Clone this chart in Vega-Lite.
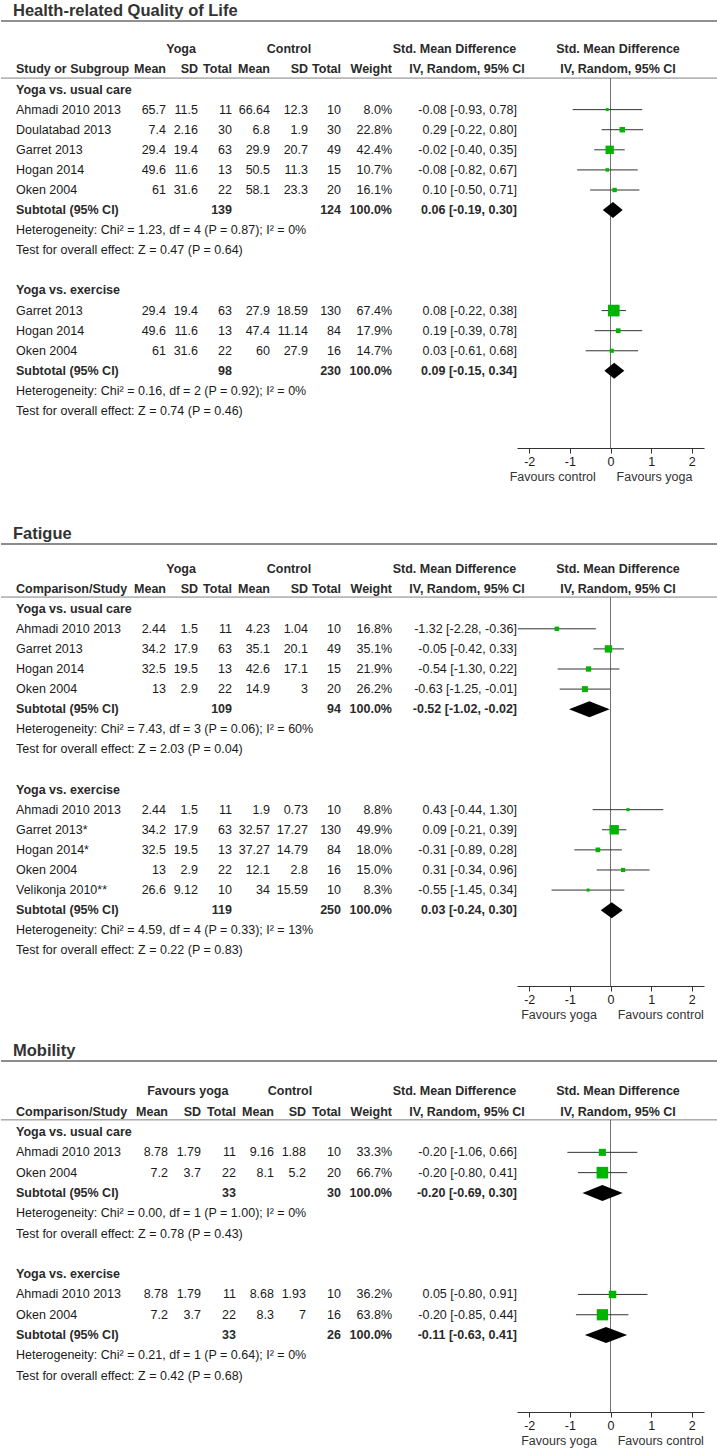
{
"$schema": "https://vega.github.io/schema/vega-lite/v6.json",
"background": "white",
"padding": {"left": 0, "top": 3, "right": 0, "bottom": 0},
"spacing": 0,
"datasets": {
"cols": [
{"col": "ym", "c": 1, "head": "Mean"},
{"col": "ysd", "c": 2, "head": "SD"},
{"col": "yn", "c": 3, "head": "Total"},
{"col": "cm", "c": 4, "head": "Mean"},
{"col": "csd", "c": 5, "head": "SD"},
{"col": "cn", "c": 6, "head": "Total"},
{"col": "w", "c": 7, "head": "Weight"},
{"col": "ci", "c": 8}
],
"heads": [
{"o": "QoL", "k": "span", "row": 0, "c": 1.47, "t": "Yoga"},
{"o": "QoL", "k": "span", "row": 0, "c": 4.5, "t": "Control"},
{"o": "QoL", "k": "span", "row": 0, "c": 7.5, "t": "Std. Mean Difference"},
{"o": "QoL", "k": "span", "row": 0, "c": 9, "t": "Std. Mean Difference"},
{"o": "QoL", "k": "span", "row": 1, "c": 7.6, "t": "IV, Random, 95% CI"},
{"o": "QoL", "k": "span", "row": 1, "c": 9, "t": "IV, Random, 95% CI"},
{"o": "QoL", "k": "stub", "row": 1, "c": 0, "t": "Study or Subgroup"},
{"o": "Fat", "k": "span", "row": 0, "c": 1.47, "t": "Yoga"},
{"o": "Fat", "k": "span", "row": 0, "c": 4.5, "t": "Control"},
{"o": "Fat", "k": "span", "row": 0, "c": 7.5, "t": "Std. Mean Difference"},
{"o": "Fat", "k": "span", "row": 0, "c": 9, "t": "Std. Mean Difference"},
{"o": "Fat", "k": "span", "row": 1, "c": 7.6, "t": "IV, Random, 95% CI"},
{"o": "Fat", "k": "span", "row": 1, "c": 9, "t": "IV, Random, 95% CI"},
{"o": "Fat", "k": "stub", "row": 1, "c": 0, "t": "Comparison/Study"},
{"o": "Mob", "k": "span", "row": 0, "c": 1.6, "t": "Favours yoga"},
{"o": "Mob", "k": "span", "row": 0, "c": 4.5, "t": "Control"},
{"o": "Mob", "k": "span", "row": 0, "c": 7.5, "t": "Std. Mean Difference"},
{"o": "Mob", "k": "span", "row": 0, "c": 9, "t": "Std. Mean Difference"},
{"o": "Mob", "k": "span", "row": 1, "c": 7.6, "t": "IV, Random, 95% CI"},
{"o": "Mob", "k": "span", "row": 1, "c": 9, "t": "IV, Random, 95% CI"},
{"o": "Mob", "k": "stub", "row": 1, "c": 0, "t": "Comparison/Study"}
],
"labels": [
{"o": "QoL", "k": "subgroup", "row": 2, "t": "Yoga vs. usual care"},
{"o": "QoL", "k": "note", "row": 9, "t": "Heterogeneity: Chi² = 1.23, df = 4 (P = 0.87); I² = 0%"},
{"o": "QoL", "k": "note", "row": 10, "t": "Test for overall effect: Z = 0.47 (P = 0.64)"},
{"o": "QoL", "k": "subgroup", "row": 12, "t": "Yoga vs. exercise"},
{"o": "QoL", "k": "note", "row": 17, "t": "Heterogeneity: Chi² = 0.16, df = 2 (P = 0.92); I² = 0%"},
{"o": "QoL", "k": "note", "row": 18, "t": "Test for overall effect: Z = 0.74 (P = 0.46)"},
{"o": "Fat", "k": "subgroup", "row": 2, "t": "Yoga vs. usual care"},
{"o": "Fat", "k": "note", "row": 8, "t": "Heterogeneity: Chi² = 7.43, df = 3 (P = 0.06); I² = 60%"},
{"o": "Fat", "k": "note", "row": 9, "t": "Test for overall effect: Z = 2.03 (P = 0.04)"},
{"o": "Fat", "k": "subgroup", "row": 11, "t": "Yoga vs. exercise"},
{"o": "Fat", "k": "note", "row": 18, "t": "Heterogeneity: Chi² = 4.59, df = 4 (P = 0.33); I² = 13%"},
{"o": "Fat", "k": "note", "row": 19, "t": "Test for overall effect: Z = 0.22 (P = 0.83)"},
{"o": "Mob", "k": "subgroup", "row": 2, "t": "Yoga vs. usual care"},
{"o": "Mob", "k": "note", "row": 6, "t": "Heterogeneity: Chi² = 0.00, df = 1 (P = 1.00); I² = 0%"},
{"o": "Mob", "k": "note", "row": 7, "t": "Test for overall effect: Z = 0.78 (P = 0.43)"},
{"o": "Mob", "k": "subgroup", "row": 9, "t": "Yoga vs. exercise"},
{"o": "Mob", "k": "note", "row": 13, "t": "Heterogeneity: Chi² = 0.21, df = 1 (P = 0.64); I² = 0%"},
{"o": "Mob", "k": "note", "row": 14, "t": "Test for overall effect: Z = 0.42 (P = 0.68)"}
],
"studies": [
{"o": "QoL", "g": "QoL-u", "row": 3, "study": "Ahmadi 2010 2013", "ym": 65.7, "ysd": 11.5, "yn": 11, "cm": 66.64, "csd": 12.3, "cn": 10, "w": 0.08, "smd": -0.08, "lo": -0.93, "hi": 0.78, "ci": "-0.08 [-0.93, 0.78]"},
{"o": "QoL", "g": "QoL-u", "row": 4, "study": "Doulatabad 2013", "ym": 7.4, "ysd": 2.16, "yn": 30, "cm": 6.8, "csd": 1.9, "cn": 30, "w": 0.228, "smd": 0.29, "lo": -0.22, "hi": 0.8, "ci": "0.29 [-0.22, 0.80]"},
{"o": "QoL", "g": "QoL-u", "row": 5, "study": "Garret 2013", "ym": 29.4, "ysd": 19.4, "yn": 63, "cm": 29.9, "csd": 20.7, "cn": 49, "w": 0.424, "smd": -0.02, "lo": -0.4, "hi": 0.35, "ci": "-0.02 [-0.40, 0.35]"},
{"o": "QoL", "g": "QoL-u", "row": 6, "study": "Hogan 2014", "ym": 49.6, "ysd": 11.6, "yn": 13, "cm": 50.5, "csd": 11.3, "cn": 15, "w": 0.107, "smd": -0.08, "lo": -0.82, "hi": 0.67, "ci": "-0.08 [-0.82, 0.67]"},
{"o": "QoL", "g": "QoL-u", "row": 7, "study": "Oken 2004", "ym": 61, "ysd": 31.6, "yn": 22, "cm": 58.1, "csd": 23.3, "cn": 20, "w": 0.161, "smd": 0.1, "lo": -0.5, "hi": 0.71, "ci": "0.10 [-0.50, 0.71]"},
{"o": "QoL", "g": "QoL-e", "row": 13, "study": "Garret 2013", "ym": 29.4, "ysd": 19.4, "yn": 63, "cm": 27.9, "csd": 18.59, "cn": 130, "w": 0.674, "smd": 0.08, "lo": -0.22, "hi": 0.38, "ci": "0.08 [-0.22, 0.38]"},
{"o": "QoL", "g": "QoL-e", "row": 14, "study": "Hogan 2014", "ym": 49.6, "ysd": 11.6, "yn": 13, "cm": 47.4, "csd": 11.14, "cn": 84, "w": 0.179, "smd": 0.19, "lo": -0.39, "hi": 0.78, "ci": "0.19 [-0.39, 0.78]"},
{"o": "QoL", "g": "QoL-e", "row": 15, "study": "Oken 2004", "ym": 61, "ysd": 31.6, "yn": 22, "cm": 60, "csd": 27.9, "cn": 16, "w": 0.147, "smd": 0.03, "lo": -0.61, "hi": 0.68, "ci": "0.03 [-0.61, 0.68]"},
{"o": "Fat", "g": "Fat-u", "row": 3, "study": "Ahmadi 2010 2013", "ym": 2.44, "ysd": 1.5, "yn": 11, "cm": 4.23, "csd": 1.04, "cn": 10, "w": 0.168, "smd": -1.32, "lo": -2.28, "hi": -0.36, "ci": "-1.32 [-2.28, -0.36]"},
{"o": "Fat", "g": "Fat-u", "row": 4, "study": "Garret 2013", "ym": 34.2, "ysd": 17.9, "yn": 63, "cm": 35.1, "csd": 20.1, "cn": 49, "w": 0.351, "smd": -0.05, "lo": -0.42, "hi": 0.33, "ci": "-0.05 [-0.42, 0.33]"},
{"o": "Fat", "g": "Fat-u", "row": 5, "study": "Hogan 2014", "ym": 32.5, "ysd": 19.5, "yn": 13, "cm": 42.6, "csd": 17.1, "cn": 15, "w": 0.219, "smd": -0.54, "lo": -1.3, "hi": 0.22, "ci": "-0.54 [-1.30, 0.22]"},
{"o": "Fat", "g": "Fat-u", "row": 6, "study": "Oken 2004", "ym": 13, "ysd": 2.9, "yn": 22, "cm": 14.9, "csd": 3, "cn": 20, "w": 0.262, "smd": -0.63, "lo": -1.25, "hi": -0.01, "ci": "-0.63 [-1.25, -0.01]"},
{"o": "Fat", "g": "Fat-e", "row": 12, "study": "Ahmadi 2010 2013", "ym": 2.44, "ysd": 1.5, "yn": 11, "cm": 1.9, "csd": 0.73, "cn": 10, "w": 0.088, "smd": 0.43, "lo": -0.44, "hi": 1.3, "ci": "0.43 [-0.44, 1.30]"},
{"o": "Fat", "g": "Fat-e", "row": 13, "study": "Garret 2013*", "ym": 34.2, "ysd": 17.9, "yn": 63, "cm": 32.57, "csd": 17.27, "cn": 130, "w": 0.499, "smd": 0.09, "lo": -0.21, "hi": 0.39, "ci": "0.09 [-0.21, 0.39]"},
{"o": "Fat", "g": "Fat-e", "row": 14, "study": "Hogan 2014*", "ym": 32.5, "ysd": 19.5, "yn": 13, "cm": 37.27, "csd": 14.79, "cn": 84, "w": 0.18, "smd": -0.31, "lo": -0.89, "hi": 0.28, "ci": "-0.31 [-0.89, 0.28]"},
{"o": "Fat", "g": "Fat-e", "row": 15, "study": "Oken 2004", "ym": 13, "ysd": 2.9, "yn": 22, "cm": 12.1, "csd": 2.8, "cn": 16, "w": 0.15, "smd": 0.31, "lo": -0.34, "hi": 0.96, "ci": "0.31 [-0.34, 0.96]"},
{"o": "Fat", "g": "Fat-e", "row": 16, "study": "Velikonja 2010**", "ym": 26.6, "ysd": 9.12, "yn": 10, "cm": 34, "csd": 15.59, "cn": 10, "w": 0.083, "smd": -0.55, "lo": -1.45, "hi": 0.34, "ci": "-0.55 [-1.45, 0.34]"},
{"o": "Mob", "g": "Mob-u", "row": 3, "study": "Ahmadi 2010 2013", "ym": 8.78, "ysd": 1.79, "yn": 11, "cm": 9.16, "csd": 1.88, "cn": 10, "w": 0.333, "smd": -0.2, "lo": -1.06, "hi": 0.66, "ci": "-0.20 [-1.06, 0.66]"},
{"o": "Mob", "g": "Mob-u", "row": 4, "study": "Oken 2004", "ym": 7.2, "ysd": 3.7, "yn": 22, "cm": 8.1, "csd": 5.2, "cn": 20, "w": 0.667, "smd": -0.2, "lo": -0.8, "hi": 0.41, "ci": "-0.20 [-0.80, 0.41]"},
{"o": "Mob", "g": "Mob-e", "row": 10, "study": "Ahmadi 2010 2013", "ym": 8.78, "ysd": 1.79, "yn": 11, "cm": 8.68, "csd": 1.93, "cn": 10, "w": 0.362, "smd": 0.05, "lo": -0.8, "hi": 0.91, "ci": "0.05 [-0.80, 0.91]"},
{"o": "Mob", "g": "Mob-e", "row": 11, "study": "Oken 2004", "ym": 7.2, "ysd": 3.7, "yn": 22, "cm": 8.3, "csd": 7, "cn": 16, "w": 0.638, "smd": -0.2, "lo": -0.85, "hi": 0.44, "ci": "-0.20 [-0.85, 0.44]"}
],
"subtotals": [
{"o": "QoL", "g": "QoL-u", "row": 8, "yn": 139, "cn": 124, "w": 1, "smd": 0.06, "lo": -0.19, "hi": 0.3, "ci": "0.06 [-0.19, 0.30]"},
{"o": "QoL", "g": "QoL-e", "row": 16, "yn": 98, "cn": 230, "w": 1, "smd": 0.09, "lo": -0.15, "hi": 0.34, "ci": "0.09 [-0.15, 0.34]"},
{"o": "Fat", "g": "Fat-u", "row": 7, "yn": 109, "cn": 94, "w": 1, "smd": -0.52, "lo": -1.02, "hi": -0.02, "ci": "-0.52 [-1.02, -0.02]"},
{"o": "Fat", "g": "Fat-e", "row": 17, "yn": 119, "cn": 250, "w": 1, "smd": 0.03, "lo": -0.24, "hi": 0.3, "ci": "0.03 [-0.24, 0.30]"},
{"o": "Mob", "g": "Mob-u", "row": 5, "yn": 33, "cn": 30, "w": 1, "smd": -0.2, "lo": -0.69, "hi": 0.3, "ci": "-0.20 [-0.69, 0.30]"},
{"o": "Mob", "g": "Mob-e", "row": 12, "yn": 33, "cn": 26, "w": 1, "smd": -0.11, "lo": -0.63, "hi": 0.41, "ci": "-0.11 [-0.63, 0.41]"}
]
},
"vconcat": [
{
"title": "Health-related Quality of Life",
"width": 717, "height": 504,
"resolve": {"scale": {"x": "independent"}},
"layer": [
{"layer": [
{"data": {"values": [{}]}, "mark": {"type": "rule", "color": "#222", "strokeWidth": 1}, "encoding": {"y": {"datum": -1.41, "type": "quantitative", "scale": {"domain": [-1.41, 23.67], "reverse": true, "nice": false, "zero": false}, "axis": null}}},
{"data": {"values": [{}]}, "mark": {"type": "rule", "color": "#808080", "strokeWidth": 1}, "encoding": {"y": {"datum": 1.43, "type": "quantitative", "axis": null}}},
{"data": {"name": "heads"}, "transform": [{"filter": "datum.o == 'QoL' && datum.k == 'span'"}], "mark": {"type": "text", "style": "bc"}, "encoding": {"x": {"field": "c", "type": "quantitative", "scale": {"domain": [0, 1, 2, 3, 4, 5, 6, 7, 8, 9], "range": [15, 165, 197, 231, 269, 307, 340, 391, 516, 617], "nice": false, "zero": false}, "axis": null}, "y": {"field": "row", "type": "quantitative", "axis": null}, "text": {"field": "t"}}},
{"data": {"name": "heads"}, "transform": [{"filter": "datum.o == 'QoL' && datum.k == 'stub'"}], "mark": {"type": "text", "style": "bl"}, "encoding": {"x": {"field": "c", "type": "quantitative", "axis": null}, "y": {"field": "row", "type": "quantitative", "axis": null}, "text": {"field": "t"}}},
{"data": {"name": "cols"}, "transform": [{"filter": "datum.head"}], "mark": {"type": "text", "style": "br"}, "encoding": {"x": {"field": "c", "type": "quantitative", "axis": null}, "y": {"datum": 1, "type": "quantitative", "axis": null}, "text": {"field": "head"}}},
{"data": {"name": "labels"}, "transform": [{"filter": "datum.o == 'QoL' && datum.k == 'subgroup'"}], "mark": {"type": "text", "style": "bl"}, "encoding": {"x": {"datum": 0, "type": "quantitative", "axis": null}, "y": {"field": "row", "type": "quantitative", "axis": null}, "text": {"field": "t"}}},
{"data": {"name": "labels"}, "transform": [{"filter": "datum.o == 'QoL' && datum.k == 'note'"}], "mark": {"type": "text", "style": "tl"}, "encoding": {"x": {"datum": 0, "type": "quantitative", "axis": null}, "y": {"field": "row", "type": "quantitative", "axis": null}, "text": {"field": "t"}}},
{"data": {"name": "studies"}, "transform": [{"filter": "datum.o == 'QoL'"}], "mark": {"type": "text", "style": "tl"}, "encoding": {"x": {"datum": 0, "type": "quantitative", "axis": null}, "y": {"field": "row", "type": "quantitative", "axis": null}, "text": {"field": "study"}}},
{"data": {"name": "studies"}, "transform": [{"filter": "datum.o == 'QoL'"}, {"fold": ["ym", "ysd", "yn", "cm", "csd", "cn", "ci"], "as": ["col", "val"]}, {"lookup": "col", "from": {"data": {"name": "cols"}, "key": "col", "fields": ["c"]}}], "mark": {"type": "text", "style": "tr"}, "encoding": {"x": {"field": "c", "type": "quantitative", "axis": null}, "y": {"field": "row", "type": "quantitative", "axis": null}, "text": {"field": "val", "type": "nominal"}}},
{"data": {"name": "studies"}, "transform": [{"filter": "datum.o == 'QoL'"}], "mark": {"type": "text", "style": "tr"}, "encoding": {"x": {"datum": 7, "type": "quantitative", "axis": null}, "y": {"field": "row", "type": "quantitative", "axis": null}, "text": {"field": "w", "type": "quantitative", "format": ".1%"}}},
{"data": {"name": "subtotals"}, "transform": [{"filter": "datum.o == 'QoL'"}], "mark": {"type": "text", "style": "bl"}, "encoding": {"x": {"datum": 0, "type": "quantitative", "axis": null}, "y": {"field": "row", "type": "quantitative", "axis": null}, "text": {"value": "Subtotal (95% CI)"}}},
{"data": {"name": "subtotals"}, "transform": [{"filter": "datum.o == 'QoL'"}, {"fold": ["yn", "cn", "ci"], "as": ["col", "val"]}, {"lookup": "col", "from": {"data": {"name": "cols"}, "key": "col", "fields": ["c"]}}], "mark": {"type": "text", "style": "br"}, "encoding": {"x": {"field": "c", "type": "quantitative", "axis": null}, "y": {"field": "row", "type": "quantitative", "axis": null}, "text": {"field": "val", "type": "nominal"}}},
{"data": {"name": "subtotals"}, "transform": [{"filter": "datum.o == 'QoL'"}], "mark": {"type": "text", "style": "br"}, "encoding": {"x": {"datum": 7, "type": "quantitative", "axis": null}, "y": {"field": "row", "type": "quantitative", "axis": null}, "text": {"field": "w", "type": "quantitative", "format": ".1%"}}}
]},
{"layer": [
{"data": {"values": [{}]}, "mark": {"type": "rule", "color": "#707070", "strokeWidth": 1}, "encoding": {"x": {"datum": 0, "type": "quantitative", "scale": {"domain": [-2.3, 2.3], "range": [516, 703], "nice": false, "zero": false}, "axis": {"orient": "bottom", "offset": -77, "values": [-2, -1, 0, 1, 2], "labelExpr": "'' + datum.value", "title": "Favours control\u00a0\u00a0\u00a0\u00a0\u00a0\u00a0Favours yoga", "titleX": 599.5}}, "y": {"datum": 1.43, "type": "quantitative", "scale": {"domain": [-1.41, 23.67], "reverse": true, "nice": false, "zero": false}, "axis": null}, "y2": {"datum": 19.84}}},
{"data": {"name": "studies"}, "transform": [{"filter": "datum.o == 'QoL'"}], "mark": {"type": "rule", "color": "#333", "strokeWidth": 1}, "encoding": {"x": {"field": "lo", "type": "quantitative"}, "x2": {"field": "hi"}, "y": {"field": "row", "type": "quantitative", "axis": null}}},
{"data": {"name": "studies"}, "transform": [{"filter": "datum.o == 'QoL'"}], "mark": {"type": "point", "shape": "square", "filled": true, "color": "#00b400", "opacity": 1, "strokeWidth": 0}, "encoding": {"x": {"field": "smd", "type": "quantitative"}, "y": {"field": "row", "type": "quantitative", "axis": null}, "size": {"field": "w", "type": "quantitative", "scale": {"type": "pow", "exponent": 1.5, "domain": [0.08, 0.674], "range": [9, 137], "zero": false}, "legend": null}}},
{"data": {"name": "subtotals"}, "transform": [{"filter": "datum.o == 'QoL'"}, {"fold": ["lo", "smd", "hi"], "as": ["k", "v"]}], "mark": {"type": "area", "color": "#000", "opacity": 1, "yOffset": {"expr": "datum.k == 'smd' ? -8 : 0"}, "y2Offset": {"expr": "datum.k == 'smd' ? 8 : 0"}}, "encoding": {"x": {"field": "v", "type": "quantitative"}, "y": {"field": "row", "type": "quantitative", "axis": null}, "y2": {"field": "row"}, "detail": {"field": "g"}}}
]}
]
},
{
"title": "Fatigue",
"width": 717, "height": 498,
"resolve": {"scale": {"x": "independent"}},
"layer": [
{"layer": [
{"data": {"values": [{}]}, "mark": {"type": "rule", "color": "#666", "strokeWidth": 1.5}, "encoding": {"y": {"datum": -1.22, "type": "quantitative", "scale": {"domain": [-1.22, 23.56], "reverse": true, "nice": false, "zero": false}, "axis": null}}},
{"data": {"values": [{}]}, "mark": {"type": "rule", "color": "#808080", "strokeWidth": 1}, "encoding": {"y": {"datum": 1.42, "type": "quantitative", "axis": null}}},
{"data": {"name": "heads"}, "transform": [{"filter": "datum.o == 'Fat' && datum.k == 'span'"}], "mark": {"type": "text", "style": "bc"}, "encoding": {"x": {"field": "c", "type": "quantitative", "scale": {"domain": [0, 1, 2, 3, 4, 5, 6, 7, 8, 9], "range": [15, 165, 197, 231, 269, 307, 340, 391, 516, 617], "nice": false, "zero": false}, "axis": null}, "y": {"field": "row", "type": "quantitative", "axis": null}, "text": {"field": "t"}}},
{"data": {"name": "heads"}, "transform": [{"filter": "datum.o == 'Fat' && datum.k == 'stub'"}], "mark": {"type": "text", "style": "bl"}, "encoding": {"x": {"field": "c", "type": "quantitative", "axis": null}, "y": {"field": "row", "type": "quantitative", "axis": null}, "text": {"field": "t"}}},
{"data": {"name": "cols"}, "transform": [{"filter": "datum.head"}], "mark": {"type": "text", "style": "br"}, "encoding": {"x": {"field": "c", "type": "quantitative", "axis": null}, "y": {"datum": 1, "type": "quantitative", "axis": null}, "text": {"field": "head"}}},
{"data": {"name": "labels"}, "transform": [{"filter": "datum.o == 'Fat' && datum.k == 'subgroup'"}], "mark": {"type": "text", "style": "bl"}, "encoding": {"x": {"datum": 0, "type": "quantitative", "axis": null}, "y": {"field": "row", "type": "quantitative", "axis": null}, "text": {"field": "t"}}},
{"data": {"name": "labels"}, "transform": [{"filter": "datum.o == 'Fat' && datum.k == 'note'"}], "mark": {"type": "text", "style": "tl"}, "encoding": {"x": {"datum": 0, "type": "quantitative", "axis": null}, "y": {"field": "row", "type": "quantitative", "axis": null}, "text": {"field": "t"}}},
{"data": {"name": "studies"}, "transform": [{"filter": "datum.o == 'Fat'"}], "mark": {"type": "text", "style": "tl"}, "encoding": {"x": {"datum": 0, "type": "quantitative", "axis": null}, "y": {"field": "row", "type": "quantitative", "axis": null}, "text": {"field": "study"}}},
{"data": {"name": "studies"}, "transform": [{"filter": "datum.o == 'Fat'"}, {"fold": ["ym", "ysd", "yn", "cm", "csd", "cn", "ci"], "as": ["col", "val"]}, {"lookup": "col", "from": {"data": {"name": "cols"}, "key": "col", "fields": ["c"]}}], "mark": {"type": "text", "style": "tr"}, "encoding": {"x": {"field": "c", "type": "quantitative", "axis": null}, "y": {"field": "row", "type": "quantitative", "axis": null}, "text": {"field": "val", "type": "nominal"}}},
{"data": {"name": "studies"}, "transform": [{"filter": "datum.o == 'Fat'"}], "mark": {"type": "text", "style": "tr"}, "encoding": {"x": {"datum": 7, "type": "quantitative", "axis": null}, "y": {"field": "row", "type": "quantitative", "axis": null}, "text": {"field": "w", "type": "quantitative", "format": ".1%"}}},
{"data": {"name": "subtotals"}, "transform": [{"filter": "datum.o == 'Fat'"}], "mark": {"type": "text", "style": "bl"}, "encoding": {"x": {"datum": 0, "type": "quantitative", "axis": null}, "y": {"field": "row", "type": "quantitative", "axis": null}, "text": {"value": "Subtotal (95% CI)"}}},
{"data": {"name": "subtotals"}, "transform": [{"filter": "datum.o == 'Fat'"}, {"fold": ["yn", "cn", "ci"], "as": ["col", "val"]}, {"lookup": "col", "from": {"data": {"name": "cols"}, "key": "col", "fields": ["c"]}}], "mark": {"type": "text", "style": "br"}, "encoding": {"x": {"field": "c", "type": "quantitative", "axis": null}, "y": {"field": "row", "type": "quantitative", "axis": null}, "text": {"field": "val", "type": "nominal"}}},
{"data": {"name": "subtotals"}, "transform": [{"filter": "datum.o == 'Fat'"}], "mark": {"type": "text", "style": "br"}, "encoding": {"x": {"datum": 7, "type": "quantitative", "axis": null}, "y": {"field": "row", "type": "quantitative", "axis": null}, "text": {"field": "w", "type": "quantitative", "format": ".1%"}}}
]},
{"layer": [
{"data": {"values": [{}]}, "mark": {"type": "rule", "color": "#707070", "strokeWidth": 1}, "encoding": {"x": {"datum": 0, "type": "quantitative", "scale": {"domain": [-2.3, 2.3], "range": [516, 703], "nice": false, "zero": false}, "axis": {"orient": "bottom", "offset": -56, "values": [-2, -1, 0, 1, 2], "labelExpr": "'' + datum.value", "title": "Favours yoga\u00a0\u00a0\u00a0\u00a0\u00a0\u00a0Favours control", "titleX": 611}}, "y": {"datum": 1.42, "type": "quantitative", "scale": {"domain": [-1.22, 23.56], "reverse": true, "nice": false, "zero": false}, "axis": null}, "y2": {"datum": 20.77}}},
{"data": {"name": "studies"}, "transform": [{"filter": "datum.o == 'Fat'"}], "mark": {"type": "rule", "color": "#333", "strokeWidth": 1}, "encoding": {"x": {"field": "lo", "type": "quantitative"}, "x2": {"field": "hi"}, "y": {"field": "row", "type": "quantitative", "axis": null}}},
{"data": {"name": "studies"}, "transform": [{"filter": "datum.o == 'Fat'"}], "mark": {"type": "point", "shape": "square", "filled": true, "color": "#00b400", "opacity": 1, "strokeWidth": 0}, "encoding": {"x": {"field": "smd", "type": "quantitative"}, "y": {"field": "row", "type": "quantitative", "axis": null}, "size": {"field": "w", "type": "quantitative", "scale": {"type": "pow", "exponent": 1.5, "domain": [0.08, 0.674], "range": [9, 137], "zero": false}, "legend": null}}},
{"data": {"name": "subtotals"}, "transform": [{"filter": "datum.o == 'Fat'"}, {"fold": ["lo", "smd", "hi"], "as": ["k", "v"]}], "mark": {"type": "area", "color": "#000", "opacity": 1, "yOffset": {"expr": "datum.k == 'smd' ? -8 : 0"}, "y2Offset": {"expr": "datum.k == 'smd' ? 8 : 0"}}, "encoding": {"x": {"field": "v", "type": "quantitative"}, "y": {"field": "row", "type": "quantitative", "axis": null}, "y2": {"field": "row"}, "detail": {"field": "g"}}}
]}
]
},
{
"title": "Mobility",
"width": 717, "height": 392,
"resolve": {"scale": {"x": "independent"}},
"layer": [
{"layer": [
{"data": {"values": [{}]}, "mark": {"type": "rule", "color": "#666", "strokeWidth": 1.5}, "encoding": {"y": {"datum": -1.5, "type": "quantitative", "scale": {"domain": [-1.5, 17.81], "reverse": true, "nice": false, "zero": false}, "axis": null}}},
{"data": {"values": [{}]}, "mark": {"type": "rule", "color": "#808080", "strokeWidth": 1}, "encoding": {"y": {"datum": 1.4, "type": "quantitative", "axis": null}}},
{"data": {"name": "heads"}, "transform": [{"filter": "datum.o == 'Mob' && datum.k == 'span'"}], "mark": {"type": "text", "style": "bc"}, "encoding": {"x": {"field": "c", "type": "quantitative", "scale": {"domain": [0, 1, 2, 3, 4, 5, 6, 7, 8, 9], "range": [15, 167, 200, 235, 273, 305, 340, 391, 516, 617], "nice": false, "zero": false}, "axis": null}, "y": {"field": "row", "type": "quantitative", "axis": null}, "text": {"field": "t"}}},
{"data": {"name": "heads"}, "transform": [{"filter": "datum.o == 'Mob' && datum.k == 'stub'"}], "mark": {"type": "text", "style": "bl"}, "encoding": {"x": {"field": "c", "type": "quantitative", "axis": null}, "y": {"field": "row", "type": "quantitative", "axis": null}, "text": {"field": "t"}}},
{"data": {"name": "cols"}, "transform": [{"filter": "datum.head"}], "mark": {"type": "text", "style": "br"}, "encoding": {"x": {"field": "c", "type": "quantitative", "axis": null}, "y": {"datum": 1, "type": "quantitative", "axis": null}, "text": {"field": "head"}}},
{"data": {"name": "labels"}, "transform": [{"filter": "datum.o == 'Mob' && datum.k == 'subgroup'"}], "mark": {"type": "text", "style": "bl"}, "encoding": {"x": {"datum": 0, "type": "quantitative", "axis": null}, "y": {"field": "row", "type": "quantitative", "axis": null}, "text": {"field": "t"}}},
{"data": {"name": "labels"}, "transform": [{"filter": "datum.o == 'Mob' && datum.k == 'note'"}], "mark": {"type": "text", "style": "tl"}, "encoding": {"x": {"datum": 0, "type": "quantitative", "axis": null}, "y": {"field": "row", "type": "quantitative", "axis": null}, "text": {"field": "t"}}},
{"data": {"name": "studies"}, "transform": [{"filter": "datum.o == 'Mob'"}], "mark": {"type": "text", "style": "tl"}, "encoding": {"x": {"datum": 0, "type": "quantitative", "axis": null}, "y": {"field": "row", "type": "quantitative", "axis": null}, "text": {"field": "study"}}},
{"data": {"name": "studies"}, "transform": [{"filter": "datum.o == 'Mob'"}, {"fold": ["ym", "ysd", "yn", "cm", "csd", "cn", "ci"], "as": ["col", "val"]}, {"lookup": "col", "from": {"data": {"name": "cols"}, "key": "col", "fields": ["c"]}}], "mark": {"type": "text", "style": "tr"}, "encoding": {"x": {"field": "c", "type": "quantitative", "axis": null}, "y": {"field": "row", "type": "quantitative", "axis": null}, "text": {"field": "val", "type": "nominal"}}},
{"data": {"name": "studies"}, "transform": [{"filter": "datum.o == 'Mob'"}], "mark": {"type": "text", "style": "tr"}, "encoding": {"x": {"datum": 7, "type": "quantitative", "axis": null}, "y": {"field": "row", "type": "quantitative", "axis": null}, "text": {"field": "w", "type": "quantitative", "format": ".1%"}}},
{"data": {"name": "subtotals"}, "transform": [{"filter": "datum.o == 'Mob'"}], "mark": {"type": "text", "style": "bl"}, "encoding": {"x": {"datum": 0, "type": "quantitative", "axis": null}, "y": {"field": "row", "type": "quantitative", "axis": null}, "text": {"value": "Subtotal (95% CI)"}}},
{"data": {"name": "subtotals"}, "transform": [{"filter": "datum.o == 'Mob'"}, {"fold": ["yn", "cn", "ci"], "as": ["col", "val"]}, {"lookup": "col", "from": {"data": {"name": "cols"}, "key": "col", "fields": ["c"]}}], "mark": {"type": "text", "style": "br"}, "encoding": {"x": {"field": "c", "type": "quantitative", "axis": null}, "y": {"field": "row", "type": "quantitative", "axis": null}, "text": {"field": "val", "type": "nominal"}}},
{"data": {"name": "subtotals"}, "transform": [{"filter": "datum.o == 'Mob'"}], "mark": {"type": "text", "style": "br"}, "encoding": {"x": {"datum": 7, "type": "quantitative", "axis": null}, "y": {"field": "row", "type": "quantitative", "axis": null}, "text": {"field": "w", "type": "quantitative", "format": ".1%"}}}
]},
{"layer": [
{"data": {"values": [{}]}, "mark": {"type": "rule", "color": "#707070", "strokeWidth": 1}, "encoding": {"x": {"datum": 0, "type": "quantitative", "scale": {"domain": [-2.3, 2.3], "range": [516, 703], "nice": false, "zero": false}, "axis": {"orient": "bottom", "offset": -41, "values": [-2, -1, 0, 1, 2], "labelExpr": "'' + datum.value", "title": "Favours yoga\u00a0\u00a0\u00a0\u00a0\u00a0\u00a0Favours control", "titleX": 611}}, "y": {"datum": 1.4, "type": "quantitative", "scale": {"domain": [-1.5, 17.81], "reverse": true, "nice": false, "zero": false}, "axis": null}, "y2": {"datum": 15.79}}},
{"data": {"name": "studies"}, "transform": [{"filter": "datum.o == 'Mob'"}], "mark": {"type": "rule", "color": "#333", "strokeWidth": 1}, "encoding": {"x": {"field": "lo", "type": "quantitative"}, "x2": {"field": "hi"}, "y": {"field": "row", "type": "quantitative", "axis": null}}},
{"data": {"name": "studies"}, "transform": [{"filter": "datum.o == 'Mob'"}], "mark": {"type": "point", "shape": "square", "filled": true, "color": "#00b400", "opacity": 1, "strokeWidth": 0}, "encoding": {"x": {"field": "smd", "type": "quantitative"}, "y": {"field": "row", "type": "quantitative", "axis": null}, "size": {"field": "w", "type": "quantitative", "scale": {"type": "pow", "exponent": 1.5, "domain": [0.08, 0.674], "range": [9, 137], "zero": false}, "legend": null}}},
{"data": {"name": "subtotals"}, "transform": [{"filter": "datum.o == 'Mob'"}, {"fold": ["lo", "smd", "hi"], "as": ["k", "v"]}], "mark": {"type": "area", "color": "#000", "opacity": 1, "yOffset": {"expr": "datum.k == 'smd' ? -8 : 0"}, "y2Offset": {"expr": "datum.k == 'smd' ? 8 : 0"}}, "encoding": {"x": {"field": "v", "type": "quantitative"}, "y": {"field": "row", "type": "quantitative", "axis": null}, "y2": {"field": "row"}, "detail": {"field": "g"}}}
]}
]
}
],
"config": {
"view": {"stroke": null},
"font": "Liberation Sans",
"text": {"font": "Liberation Sans", "fontSize": 12.5, "baseline": "middle", "color": "#1a1a1a"},
"style": {
"tl": {"align": "left"},
"tr": {"align": "right"},
"bl": {"align": "left", "fontWeight": "bold", "color": "#2a2a2a"},
"br": {"align": "right", "fontWeight": "bold", "color": "#2a2a2a"},
"bc": {"align": "center", "fontWeight": "bold", "color": "#2a2a2a"}
},
"title": {"anchor": "start", "frame": "group", "fontSize": 16.5, "fontWeight": "bold", "font": "Liberation Sans", "color": "#333", "offset": 1, "dx": 12},
"axis": {"grid": false, "domainColor": "#333", "tickColor": "#333", "tickSize": 5, "labelFont": "Liberation Sans", "labelFontSize": 12.5, "labelColor": "#1a1a1a", "labelPadding": 2, "titleFont": "Liberation Sans", "titleFontSize": 12.5, "titleFontWeight": "normal", "titleColor": "#333", "titlePadding": 3, "labelFlush": false, "labelOverlap": false}
}
}
